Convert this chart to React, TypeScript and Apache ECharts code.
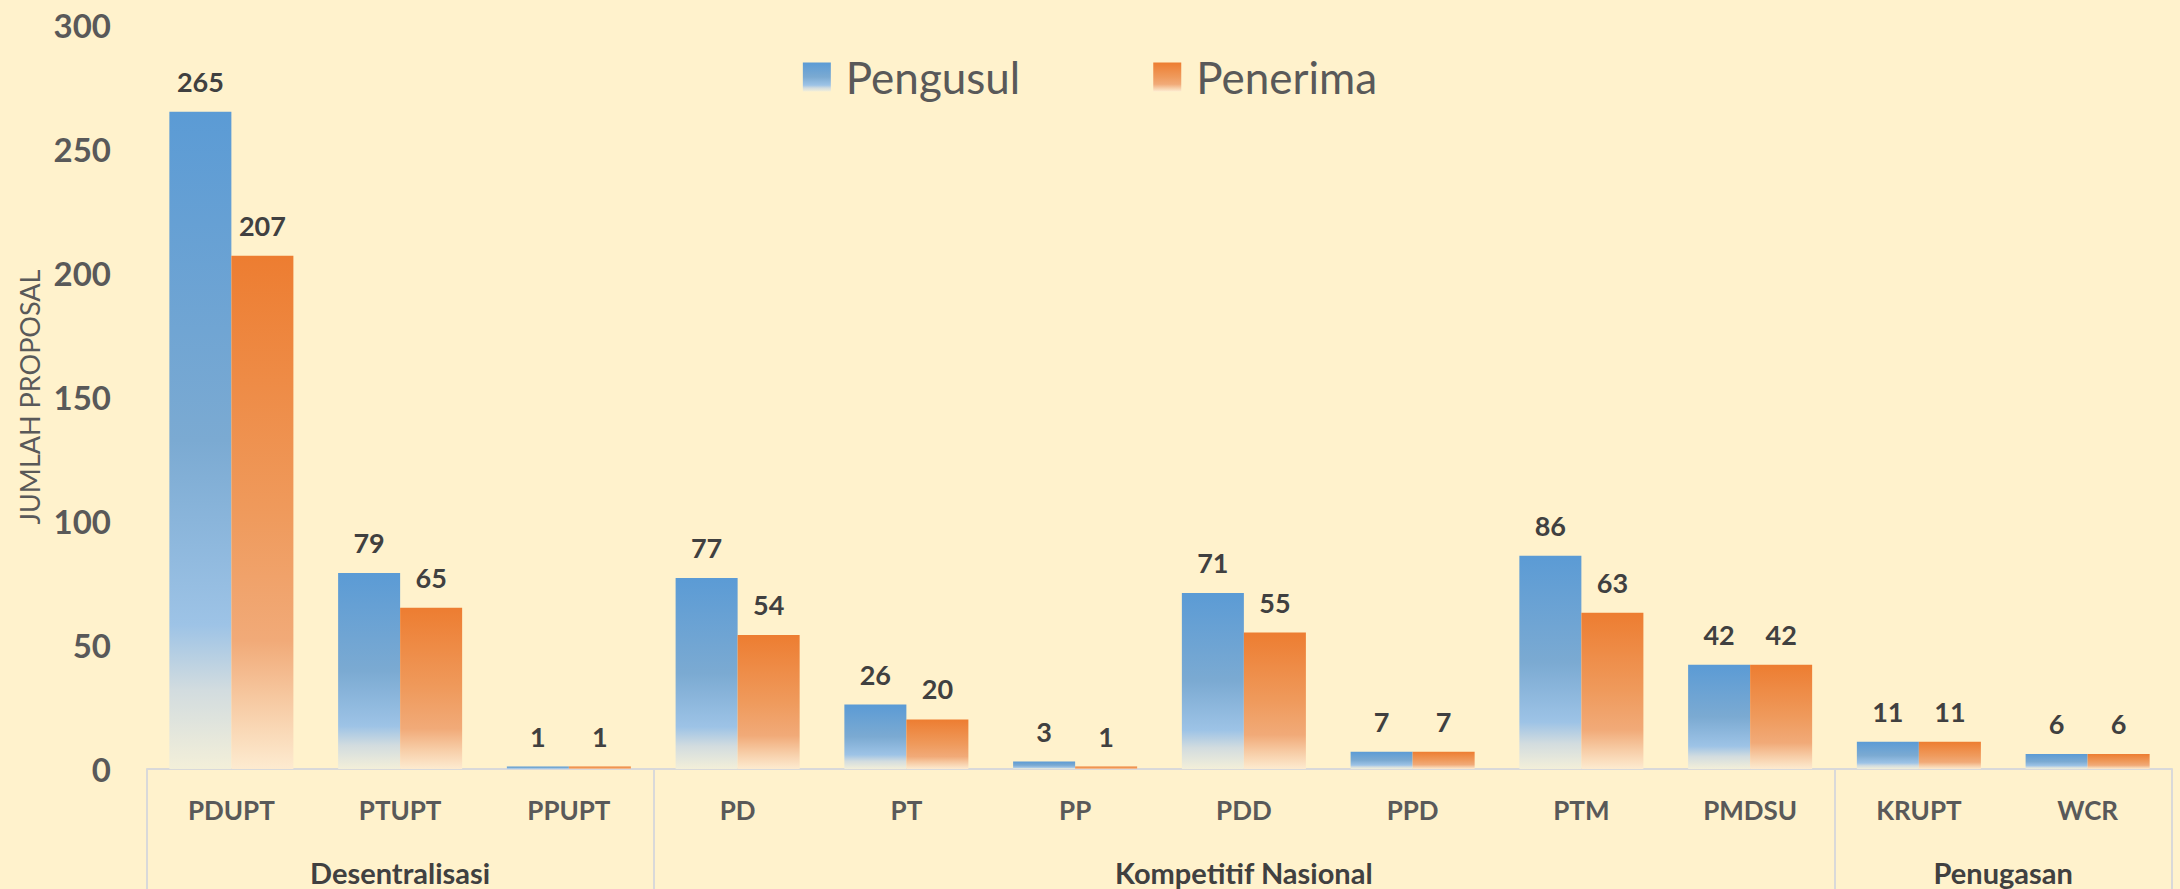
import React, { useEffect, useRef } from "react";
import * as echarts from "echarts";

const categories = ["PDUPT", "PTUPT", "PPUPT", "PD", "PT", "PP", "PDD", "PPD", "PTM", "PMDSU", "KRUPT", "WCR"];
const pengusul = [265, 79, 1, 77, 26, 3, 71, 7, 86, 42, 11, 6];
const penerima = [207, 65, 1, 54, 20, 1, 55, 7, 63, 42, 11, 6];
const groupNames = ["Desentralisasi", "Kompetitif Nasional", "Penugasan"];
const groupSizes = [3, 7, 2];
const seriesNames = ["Pengusul", "Penerima"];
const yMin = 0;
const yMax = 300;
const yInterval = 50;
const yTitle = "JUMLAH PROPOSAL";

const FONT = "Lato, 'Open Sans', sans-serif";

export default function App() {
  const ref = useRef<HTMLDivElement>(null);
  useEffect(() => {
    document.body.style.margin = "0";
    if (!ref.current) return;
    const chart = echarts.init(ref.current, undefined, { renderer: "svg" });

    const boundaries: number[] = [0];
    const centers: number[] = [];
    let acc = 0;
    groupSizes.forEach((s) => {
      centers.push(acc + s / 2);
      acc += s;
      boundaries.push(acc);
    });
    const centerLabel = (v: number) => {
      const i = centers.findIndex((c) => Math.abs(c - v) < 1e-6);
      return i >= 0 ? groupNames[i] : "";
    };

    const blueGrad = new echarts.graphic.LinearGradient(0, 0, 0, 1, [
      { offset: 0, color: "#5B9BD5" },
      { offset: 0.5, color: "#7BAAD2" },
      { offset: 0.78, color: "#9DC3E6" },
      { offset: 0.88, color: "#D2DCDF" },
      { offset: 1, color: "#F3EFD9" },
    ]);
    const orangeGrad = new echarts.graphic.LinearGradient(0, 0, 0, 1, [
      { offset: 0, color: "#ED7D31" },
      { offset: 0.5, color: "#EF9A5C" },
      { offset: 0.75, color: "#F1AA78" },
      { offset: 0.88, color: "#F7CDA7" },
      { offset: 1, color: "#FDEBD0" },
    ]);

    const labelStyle = {
      show: true,
      position: "top" as const,
      distance: 17,
      color: "#404040",
      fontFamily: FONT,
      fontWeight: "bold" as const,
      fontSize: 27,
    };

    chart.setOption({
      animation: false,
      backgroundColor: "#FFF2CC",
      textStyle: { fontFamily: FONT },
      legend: {
        top: 50,
        left: "center",
        itemWidth: 28,
        itemHeight: 29,
        itemGap: 133,
        icon: "rect",
        textStyle: { color: "#595959", fontSize: 44, fontFamily: FONT, padding: [0, 0, 0, 10] },
        data: seriesNames,
      },
      grid: { left: 147, right: 8, top: 25, bottom: 120, containLabel: false },
      xAxis: [
        {
          type: "category",
          data: categories,
          axisLine: { show: true, lineStyle: { color: "#D9D9D9", width: 2 } },
          axisTick: { show: false },
          axisLabel: {
            color: "#595959",
            fontFamily: FONT,
            fontWeight: "bold",
            fontSize: 26,
            margin: 28,
            interval: 0,
          },
        },
        {
          type: "value",
          min: 0,
          max: categories.length,
          position: "bottom",
          axisLine: { show: false },
          splitLine: { show: false },
          axisTick: {
            show: true,
            customValues: boundaries,
            length: 125,
            lineStyle: { color: "#D9D9D9", width: 2 },
          },
          axisLabel: {
            customValues: centers,
            formatter: (v: number) => centerLabel(v),
            color: "#404040",
            fontFamily: FONT,
            fontWeight: "bold",
            fontSize: 29,
            margin: 89,
            showMinLabel: true,
            showMaxLabel: true,
          },
        },
      ],
      yAxis: {
        type: "value",
        min: yMin,
        max: yMax,
        interval: yInterval,
        name: yTitle,
        nameLocation: "middle",
        nameGap: 103,
        nameTextStyle: { color: "#595959", fontSize: 27, fontFamily: FONT },
        axisLine: { show: false },
        axisTick: { show: false },
        splitLine: { show: false },
        axisLabel: {
          color: "#595959",
          fontFamily: FONT,
          fontWeight: "bold",
          fontSize: 33,
          margin: 36,
        },
      },
      series: [
        {
          name: seriesNames[0],
          type: "bar",
          data: pengusul,
          barGap: "0%",
          barCategoryGap: "26.5%",
          itemStyle: { color: blueGrad },
          label: labelStyle,
        },
        {
          name: seriesNames[1],
          type: "bar",
          data: penerima,
          barGap: "0%",
          barCategoryGap: "26.5%",
          itemStyle: { color: orangeGrad },
          label: labelStyle,
        },
      ],
    });
    return () => chart.dispose();
  }, []);
  return <div ref={ref} style={{ width: 2180, height: 889, background: "#FFF2CC" }} />;
}
